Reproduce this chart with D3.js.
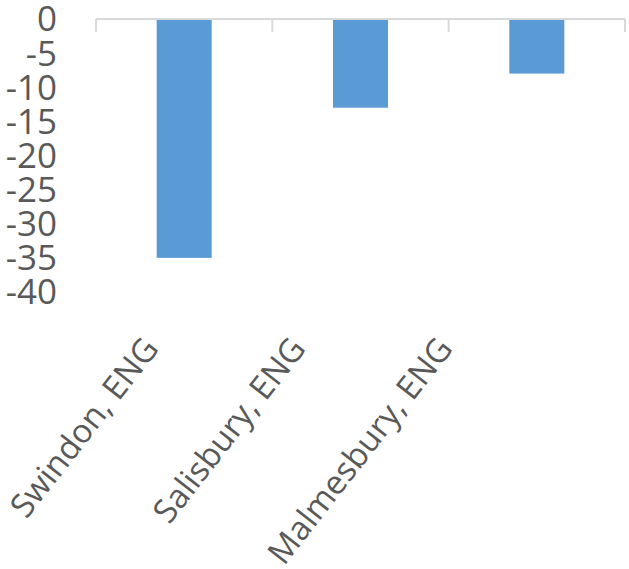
<!DOCTYPE html>
<html>
<head>
<meta charset="utf-8">
<script src="https://cdn.jsdelivr.net/npm/d3@7"></script>
<style>
  html, body { margin: 0; padding: 0; background: #fff; }
  svg { display: block; }
</style>
</head>
<body>
<svg id="chart" width="629" height="569"></svg>
<script>
const categories = ["Swindon, ENG", "Salisbury, ENG", "Malmesbury, ENG"];
const values = [-35, -13, -8];
const yTicks = [0, -5, -10, -15, -20, -25, -30, -35, -40];

const svg = d3.select("#chart");
const plotLeft = 96, plotRight = 625, plotTop = 19, plotBottom = 292;

const x = d3.scaleBand().domain(categories).range([plotLeft, plotRight])
  .paddingInner(0.688).paddingOuter(0.344);
const y = d3.scaleLinear().domain([-40, 0]).range([plotBottom, plotTop]);

// bars
svg.append("g").selectAll("rect").data(categories).join("rect")
  .attr("x", d => x(d))
  .attr("width", x.bandwidth())
  .attr("y", y(0))
  .attr("height", (d, i) => y(values[i]) - y(0))
  .attr("fill", "#5B9BD5");

// y axis labels
const yAxis = d3.axisLeft(y).tickValues(yTicks).tickSize(0).tickPadding(0).tickFormat(d3.format("d"));
const gy = svg.append("g").attr("transform", `translate(57,0)`).call(yAxis);
gy.select(".domain").remove();
gy.selectAll("text")
  .attr("font-family", "'Open Sans', sans-serif")
  .attr("font-size", 35)
  .attr("fill", "#595959")
  .attr("dy", "0.34em")
  .text(d => d === 0 ? "0" : "-" + Math.abs(d));

// category axis line at zero with boundary ticks
const boundaries = d3.range(categories.length + 1).map(i => plotLeft + i * x.step());
svg.append("line")
  .attr("x1", plotLeft).attr("x2", plotRight)
  .attr("y1", y(0)).attr("y2", y(0))
  .attr("stroke", "#D9D9D9").attr("stroke-width", 2);
svg.append("g").selectAll("line").data(boundaries).join("line")
  .attr("x1", d => d).attr("x2", d => d)
  .attr("y1", y(0)).attr("y2", y(0) + 13)
  .attr("stroke", "#D9D9D9").attr("stroke-width", 2);

// category labels rotated (label anchors follow the band centres, compressed)
const labelX = d => 6.4 + 0.8337 * (x(d) + x.bandwidth() / 2);
svg.append("g").selectAll("text").data(categories).join("text")
  .attr("transform", d => `translate(${labelX(d)},349) rotate(-52)`)
  .attr("text-anchor", "end")
  .attr("font-family", "'Open Sans', sans-serif")
  .attr("font-size", 33)
  .attr("fill", "#595959")
  .text(d => d);
</script>
</body>
</html>
